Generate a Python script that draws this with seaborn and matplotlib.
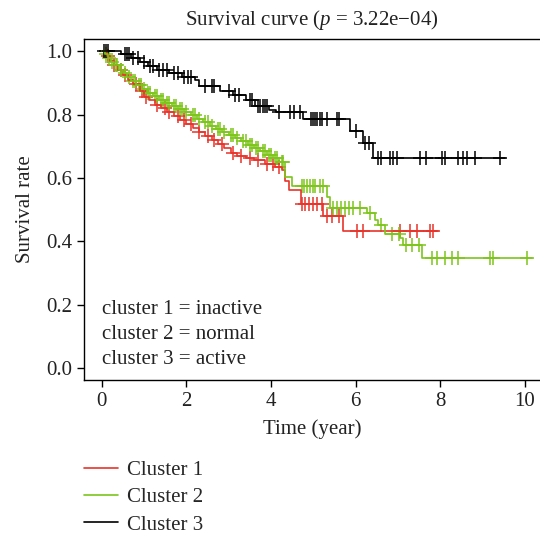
import numpy as np
import pandas as pd
import matplotlib
matplotlib.use('Agg')
import matplotlib.pyplot as plt
import seaborn as sns

# step curves (time in years, survival rate)
red_t = [0, 0.12, 0.2, 0.28, 0.38, 0.5, 0.62, 0.75, 0.9, 1.0, 1.12, 1.25, 1.4, 1.55, 1.7,
         1.85, 2.0, 2.15, 2.3, 2.45, 2.6, 2.75, 2.9, 3.05, 3.2, 3.4, 3.6, 3.85, 4.1, 4.25,
         4.33, 4.42, 4.7, 5.23, 5.7, 7.95]
red_s = [1.0, 0.985, 0.97, 0.955, 0.94, 0.925, 0.91, 0.895, 0.875, 0.855, 0.845, 0.83, 0.82,
         0.808, 0.795, 0.782, 0.77, 0.757, 0.745, 0.732, 0.72, 0.708, 0.695, 0.68, 0.67,
         0.662, 0.655, 0.645, 0.635, 0.626, 0.589, 0.562, 0.517, 0.48, 0.431, 0.431]

green_t = [0, 0.08, 0.15, 0.22, 0.3, 0.4, 0.5, 0.6, 0.7, 0.82, 0.95, 1.08, 1.2, 1.35, 1.5,
           1.65, 1.8, 1.95, 2.1, 2.25, 2.4, 2.55, 2.7, 2.85, 3.0, 3.15, 3.3, 3.45, 3.6, 3.75,
           3.9, 4.05, 4.2, 4.33, 4.5, 5.33, 5.4, 6.27, 6.46, 6.54, 6.7, 7.05, 7.13, 7.57, 10.17]
green_s = [1.0, 0.99, 0.978, 0.966, 0.955, 0.942, 0.93, 0.918, 0.905, 0.893, 0.88, 0.868,
           0.857, 0.846, 0.835, 0.826, 0.817, 0.808, 0.797, 0.786, 0.775, 0.765, 0.755, 0.745,
           0.735, 0.725, 0.715, 0.705, 0.695, 0.685, 0.672, 0.662, 0.65, 0.604, 0.573, 0.541,
           0.505, 0.489, 0.468, 0.452, 0.423, 0.41, 0.389, 0.348, 0.348]

black_t = [0, 0.45, 0.7, 0.9, 1.1, 1.3, 1.6, 1.9, 2.2, 2.3, 2.8, 3.1, 3.4, 3.62, 3.95, 4.12,
           4.76, 5.87, 6.17, 6.42, 9.53]
black_s = [1.0, 0.99, 0.978, 0.965, 0.952, 0.94, 0.93, 0.92, 0.91, 0.889, 0.873, 0.863, 0.847,
           0.826, 0.815, 0.808, 0.787, 0.747, 0.71, 0.664, 0.664]

# censored times (the + marks)
red_cens = [0.15, 0.3, 0.45, 0.55, 0.8, 0.95, 1.05, 1.3, 1.5, 1.6, 1.8, 1.95, 2.1, 2.3, 2.5,
            2.65, 2.85, 3.1, 3.3, 3.5, 3.7, 3.9, 4.05, 4.2, 4.73, 4.8, 4.9, 5.0, 5.1, 5.2,
            5.33, 5.45, 5.6, 6.03, 6.18, 7.05, 7.29, 7.45, 7.76, 7.83]
green_cens = [0.1, 0.18, 0.25, 0.33, 0.37, 0.45, 0.55, 0.65, 0.75, 0.78, 0.88, 0.92, 1.0, 1.1,
              1.15, 1.25, 1.3, 1.4, 1.45, 1.55, 1.6, 1.7, 1.75, 1.85, 1.9, 2.0, 2.15, 2.2,
              2.3, 2.45, 2.5, 2.6, 2.75, 2.8, 2.9, 3.05, 3.1, 3.2, 3.35, 3.4, 3.5, 3.55, 3.65,
              3.7, 3.8, 3.85, 3.95, 4.0, 4.1, 4.15, 4.25, 4.28, 4.73, 4.78, 4.85, 4.92, 5.0,
              5.05, 5.15, 5.24, 5.47, 5.55, 5.65, 5.75, 5.85, 5.95, 6.1, 6.35, 6.6, 6.85,
              7.03, 7.2, 7.33, 7.49, 7.8, 7.92, 8.12, 8.27, 8.43, 9.18, 9.26, 10.05]
black_cens = [0.05, 0.1, 0.15, 0.55, 0.6, 0.65, 0.75, 0.85, 1.0, 1.15, 1.2, 1.35, 1.45, 1.55,
              1.7, 1.8, 1.95, 2.05, 2.1, 2.45, 2.6, 2.65, 3.0, 3.15, 3.25, 3.5, 3.55, 3.7,
              3.75, 3.8, 3.85, 3.9, 4.2, 4.45, 4.55, 4.69, 4.95, 5.0, 5.05, 5.1, 5.15, 5.2,
              5.33, 5.57, 5.62, 6.0, 6.23, 6.32, 6.52, 6.6, 6.82, 6.88, 6.97, 7.53, 7.67,
              8.04, 8.12, 8.43, 8.54, 8.63, 8.83, 9.42]

clusters = ['Cluster 1', 'Cluster 2', 'Cluster 3']
notes = ['cluster 1 = inactive', 'cluster 2 = normal', 'cluster 3 = active']
palette = {'Cluster 1': '#E8342B', 'Cluster 2': '#7DC51B', 'Cluster 3': '#000000'}

curves = {'Cluster 1': (red_t, red_s, red_cens),
          'Cluster 2': (green_t, green_s, green_cens),
          'Cluster 3': (black_t, black_s, black_cens)}

step_rows, cens_rows = [], []
for name, (t, s, c) in curves.items():
    step_rows.append(pd.DataFrame({'time': t, 'surv': s, 'cluster': name}))
    # censor marks sit on the curve: value of the last step before each time
    idx = np.searchsorted(t, c, side='right') - 1
    cens_rows.append(pd.DataFrame({'time': c, 'surv': np.array(s)[idx], 'cluster': name}))
steps = pd.concat(step_rows, ignore_index=True)
cens = pd.concat(cens_rows, ignore_index=True)

sns.set_theme(style='ticks')
plt.rcParams['font.family'] = ['Liberation Serif', 'DejaVu Serif']
plt.rcParams['mathtext.fontset'] = 'custom'
plt.rcParams['mathtext.rm'] = 'Liberation Serif'
plt.rcParams['mathtext.it'] = 'Liberation Serif:italic'

FS = 15
TXT = '#222222'

fig, ax = plt.subplots(figsize=(5.4, 5.37), dpi=100)
fig.subplots_adjust(left=84 / 540, right=1.0, top=1 - 39 / 537, bottom=1 - 380 / 537)

sns.lineplot(data=steps, x='time', y='surv', hue='cluster', hue_order=clusters,
             palette=palette, drawstyle='steps-post', estimator=None, linewidth=1.2,
             ax=ax)
for name in clusters:
    sub = cens[cens['cluster'] == name]
    sns.scatterplot(data=sub, x='time', y='surv', color=palette[name], marker='+',
                    s=100, linewidth=1.1, legend=False, ax=ax)

ax.set_xlim(-0.42, 10.36)
ax.set_ylim(-0.038, 1.0385)
ax.set_xticks([0, 2, 4, 6, 8, 10])
ax.set_yticks([0.0, 0.2, 0.4, 0.6, 0.8, 1.0])
ax.set_yticklabels(['0.0', '0.2', '0.4', '0.6', '0.8', '1.0'])
ax.tick_params(labelsize=FS, length=5, width=1.0, color='black', labelcolor=TXT)
for sp in ['left', 'bottom', 'top']:
    ax.spines[sp].set_linewidth(1.0)
    ax.spines[sp].set_color('black')
ax.spines['right'].set_visible(False)

ax.set_xlabel('Time (year)', fontsize=FS, color=TXT, labelpad=6)
ax.set_ylabel('Survival rate', fontsize=FS, color=TXT, labelpad=8)
ax.set_title('Survival curve ($p$ = 3.22e\u221204)', fontsize=FS, color=TXT, pad=10)

for i, txt in enumerate(notes):
    ax.text(0.0, 0.185 - i * 0.079, txt, fontsize=FS, va='center', ha='left', color=TXT)

sns.move_legend(ax, 'upper left', bbox_to_anchor=(0.0, -0.237), frameon=False, title=None,
                fontsize=FS, handlelength=1.65, handletextpad=0.4, labelspacing=0.36,
                borderpad=0, borderaxespad=0)

fig.savefig('out.png', dpi=100)
